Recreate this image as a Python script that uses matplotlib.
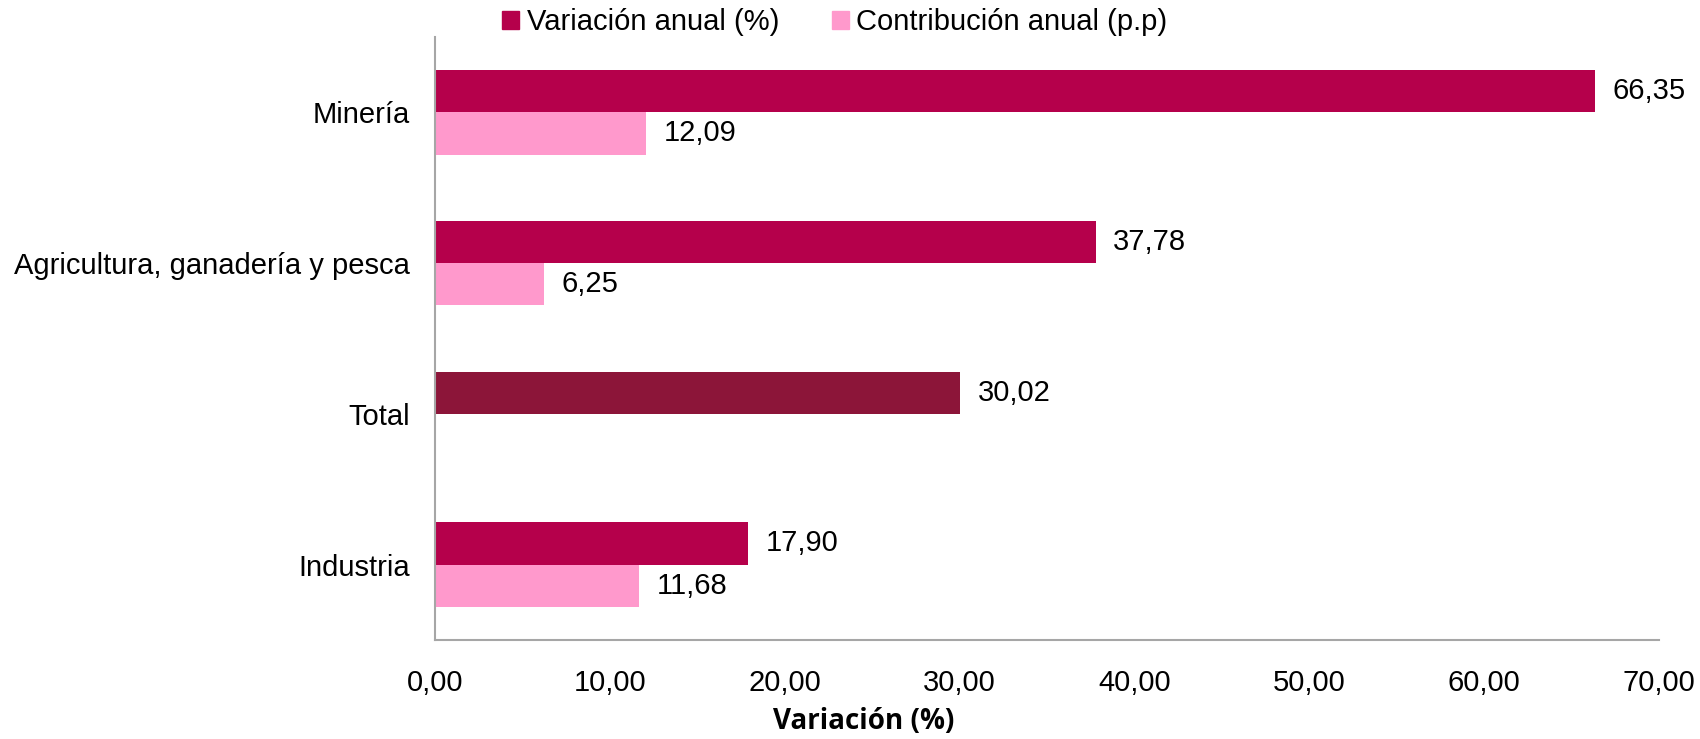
import matplotlib.pyplot as plt
import numpy as np

plt.rcParams['font.family'] = ['Liberation Sans', 'DejaVu Sans']

categorias = ['Minería', 'Agricultura, ganadería y pesca', 'Total', 'Industria']
variacion = [66.35, 37.78, 30.02, 17.90]
contribucion = [12.09, 6.25, np.nan, 11.68]
xticks = [0, 10, 20, 30, 40, 50, 60, 70]

c_var = '#B5004B'
c_con = '#FF99CC'
c_tot = '#8C1539'

fig = plt.figure(figsize=(17, 7.39), dpi=100)
ax = fig.add_axes([0.2559, 0.134, 0.7200, 0.816])

y = np.arange(len(categorias))
h = 0.28
colores_var = [c_tot if c == 'Total' else c_var for c in categorias]
ax.barh(y - h / 2, variacion, height=h, color=colores_var)
ax.barh(y + h / 2, contribucion, height=h, color=c_con)

def fmt(v):
    return f'{v:.2f}'.replace('.', ',')

fs = 21
for yi, v in zip(y - h / 2, variacion):
    ax.text(v + 1.0, yi, fmt(v), va='center', ha='left', fontsize=fs)
for yi, v in zip(y + h / 2, contribucion):
    if not np.isnan(v):
        ax.text(v + 1.0, yi, fmt(v), va='center', ha='left', fontsize=fs)

ax.set_ylim(3.5, -0.5)
ax.set_xlim(0, 70)
ax.set_yticks(y)
ax.set_yticklabels(categorias, fontsize=fs)
ax.set_xticks(xticks)
ax.set_xticklabels([fmt(t) for t in xticks], fontsize=fs)
ax.tick_params(axis='y', length=0, pad=18)
ax.tick_params(axis='x', length=0, pad=21)

for s in ['top', 'right']:
    ax.spines[s].set_visible(False)
for s in ['left', 'bottom']:
    ax.spines[s].set_color('#A6A6A6')
    ax.spines[s].set_linewidth(1.5)

fig.text(0.508, 0.024, 'Variación (%)', fontsize=20, fontweight='bold',
         family='Open Sans', ha='center', va='center')

# leyenda arriba con marcadores cuadrados
handles = [plt.Rectangle((0, 0), 1, 1, color=c_var), plt.Rectangle((0, 0), 1, 1, color=c_con)]
fig.legend(handles, ['Variación anual (%)', 'Contribución anual (p.p)'], loc='center',
           bbox_to_anchor=(0.491, 0.97), ncol=2, frameon=False, fontsize=fs,
           handlelength=0.6, handleheight=0.6, handletextpad=0.25, columnspacing=1.8)

plt.savefig('out.png', dpi=100)
